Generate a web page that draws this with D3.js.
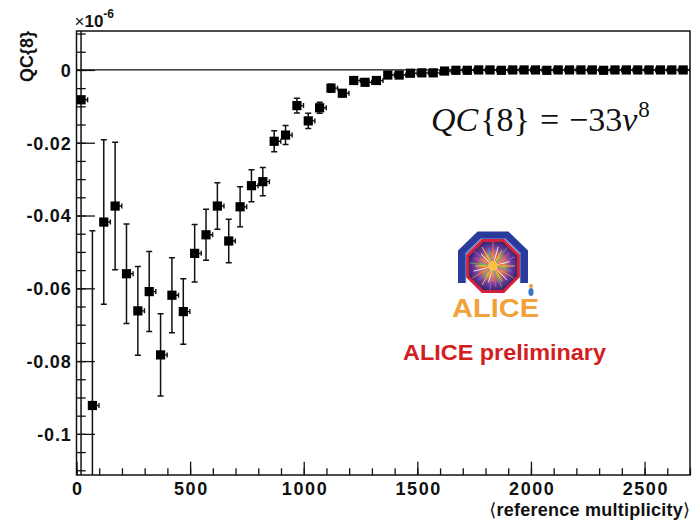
<!DOCTYPE html>
<html>
<head>
<meta charset="utf-8">
<script src="https://cdn.jsdelivr.net/npm/d3@7"></script>
<style>
  body { margin: 0; background: #fff; }
  svg { display: block; }
</style>
</head>
<body>
<svg id="chart" width="693" height="521"></svg>
<script>
// QC{8} cumulant (in units of 1e-6) versus mean reference multiplicity
const multiplicity = [
  20, 70, 120, 170, 220, 270, 320, 370, 420, 470,
  520, 570, 620, 670, 720, 770, 820, 870, 920, 970,
  1020, 1070, 1120, 1170, 1220, 1270, 1320, 1370, 1420, 1470,
  1520, 1570, 1620, 1670, 1720, 1770, 1820, 1870, 1920, 1970,
  2020, 2070, 2120, 2170, 2220, 2270, 2320, 2370, 2420, 2470,
  2520, 2570, 2620, 2670
];
const qc8 = [
  -0.0082, -0.0922, -0.0418, -0.0374, -0.0560, -0.0662, -0.0609, -0.0783, -0.0619, -0.0664,
  -0.0504, -0.0453, -0.0374, -0.0470, -0.0376, -0.0318, -0.0307, -0.0196, -0.0179, -0.0098,
  -0.0140, -0.0104, -0.0050, -0.0064, -0.0029, -0.0034, -0.0029, -0.0014, -0.0014, -0.0009,
  -0.0008, -0.0008, -0.0003, -0.0001, -0.0001, 0.0000, 0.0000, -0.0001, 0.0000, 0.0000,
  0.0000, -0.0001, 0.0000, 0.0000, 0.0000, 0.0000, -0.0001, 0.0000, 0.0000, 0.0000,
  0.0000, 0.0000, 0.0000, 0.0000
];
const qc8Err = [
  0.1500, 0.0480, 0.0226, 0.0175, 0.0137, 0.0122, 0.0110, 0.0113, 0.0103, 0.0090,
  0.0079, 0.0070, 0.0064, 0.0060, 0.0055, 0.0044, 0.0039, 0.0029, 0.0026, 0.0020,
  0.0021, 0.0015, 0.0011, 0.0009, 0.0007, 0.0006, 0.0005, 0.0004, 0.0004, 0.0003,
  0.0003, 0.0003, 0.0002, 0.0001, 0.0001, 0.0001, 0.0001, 0.0001, 0.0001, 0.0001,
  0.0001, 0.0001, 0.0001, 0.0001, 0.0001, 0.0001, 0.0001, 0.0001, 0.0001, 0.0001,
  0.0001, 0.0001, 0.0001, 0.0001
];
// spread of the multiplicity inside each bin (below / above the mean)
const multErrLow = 5;
const multErrHigh = 29;

const xTickValues = [0, 500, 1000, 1500, 2000, 2500];
const xTickLabels = ["0", "500", "1000", "1500", "2000", "2500"];
const yTickValues = [0, -0.02, -0.04, -0.06, -0.08, -0.1];
const yTickLabels = ["0", "-0.02", "-0.04", "-0.06", "-0.08", "-0.1"];

const svg = d3.select("#chart");
const W = 693, H = 521;
const frame = { left: 76.5, right: 690, top: 31, bottom: 475 };

const x = d3.scaleLinear().domain([0, 2700]).range([frame.left, frame.right]);
const y = d3.scaleLinear().domain([-0.1113, 0.0107]).range([frame.bottom, frame.top]);

const AXIS_FONT = "'Liberation Sans', Arial, Helvetica, sans-serif";
const ink = "#111";

svg.append("rect").attr("width", W).attr("height", H).attr("fill", "#fff");

const defs = svg.append("defs");
defs.append("clipPath").attr("id", "plotClip")
  .append("rect")
  .attr("x", frame.left).attr("y", frame.top)
  .attr("width", frame.right - frame.left).attr("height", frame.bottom - frame.top);

// ---------- axes (ticks point into the frame) ----------
const plotW = frame.right - frame.left, plotH = frame.bottom - frame.top;
const yMajorLen = 0.03 * plotW, yMinorLen = yMajorLen / 2;
const xMajorLen = 0.03 * plotH, xMinorLen = xMajorLen / 2;

const yAxis = d3.axisLeft(y)
  .tickValues(yTickValues)
  .tickFormat((d, i) => yTickLabels[i])
  .tickSizeInner(-yMajorLen).tickSizeOuter(0).tickPadding(5);
const gy = svg.append("g").attr("transform", `translate(${frame.left},0)`).call(yAxis);

const yMinor = d3.range(-0.110, 0.0101, 0.005).map(v => +v.toFixed(3));
const gyMinor = svg.append("g").attr("transform", `translate(${frame.left},0)`)
  .call(d3.axisLeft(y).tickValues(yMinor).tickFormat("").tickSizeInner(-yMinorLen).tickSizeOuter(0));

const xAxis = d3.axisBottom(x)
  .tickValues(xTickValues)
  .tickFormat((d, i) => xTickLabels[i])
  .tickSizeInner(-xMajorLen).tickSizeOuter(0).tickPadding(7);
const gx = svg.append("g").attr("transform", `translate(0,${frame.bottom})`).call(xAxis);

const xMinor = d3.range(0, 2701, 100);
const gxMinor = svg.append("g").attr("transform", `translate(0,${frame.bottom})`)
  .call(d3.axisBottom(x).tickValues(xMinor).tickFormat("").tickSizeInner(-xMinorLen).tickSizeOuter(0));

[gy, gyMinor, gx, gxMinor].forEach(g => {
  g.select(".domain").remove();
  g.selectAll(".tick line").attr("stroke", ink).attr("stroke-width", 1.3);
  g.selectAll(".tick text")
    .attr("fill", ink)
    .style("font-family", AXIS_FONT)
    .style("font-weight", "bold")
    .style("font-size", "18px");
});
gy.selectAll(".tick text").style("letter-spacing", "0.8px").attr("dy", "0.36em");
gx.selectAll(".tick text").style("letter-spacing", "1.6px").attr("dx", "0.8px");

// frame
svg.append("rect")
  .attr("x", frame.left).attr("y", frame.top)
  .attr("width", plotW).attr("height", plotH)
  .attr("fill", "none").attr("stroke", ink).attr("stroke-width", 1.5);

// zero line
svg.append("line")
  .attr("x1", frame.left).attr("x2", frame.right)
  .attr("y1", y(0)).attr("y2", y(0))
  .attr("stroke", ink).attr("stroke-width", 1.2);

// ---------- data: error bars and square markers ----------
const points = multiplicity.map((m, i) => ({ m, v: qc8[i], e: qc8Err[i] }));
const dataG = svg.append("g").attr("clip-path", "url(#plotClip)");
const capHalf = 3;

points.forEach(p => {
  const cx = x(p.m), cy = y(p.v);
  const yTop = y(p.v + p.e), yBot = y(p.v - p.e);
  dataG.append("line")
    .attr("x1", cx).attr("x2", cx).attr("y1", yTop).attr("y2", yBot)
    .attr("stroke", ink).attr("stroke-width", 1.5);
  [yTop, yBot].forEach(yy => {
    if (yy > frame.top + 1 && yy < frame.bottom - 1) {
      dataG.append("line")
        .attr("x1", cx - capHalf).attr("x2", cx + capHalf).attr("y1", yy).attr("y2", yy)
        .attr("stroke", ink).attr("stroke-width", 1.5);
    }
  });
  const xr = x(p.m + multErrHigh), xl = x(p.m - multErrLow);
  dataG.append("line")
    .attr("x1", xl).attr("x2", xr).attr("y1", cy).attr("y2", cy)
    .attr("stroke", ink).attr("stroke-width", 1.4);
  dataG.append("line")
    .attr("x1", xr).attr("x2", xr).attr("y1", cy - 2.5).attr("y2", cy + 2.5)
    .attr("stroke", ink).attr("stroke-width", 1.4);
});

const marker = 9.2;
dataG.selectAll("rect.pt")
  .data(points)
  .join("rect")
  .attr("class", "pt")
  .attr("x", d => x(d.m) - marker / 2)
  .attr("y", d => y(d.v) - marker / 2)
  .attr("width", marker).attr("height", marker)
  .attr("fill", "#000");

// ---------- axis titles ----------
svg.append("text")
  .attr("transform", `translate(33,${frame.top}) rotate(-90)`)
  .attr("text-anchor", "end")
  .style("font-family", AXIS_FONT).style("font-weight", "bold").style("font-size", "18px")
  .attr("fill", ink)
  .text("QC{8}");

const expo = svg.append("text")
  .attr("x", frame.left - 2).attr("y", 27)
  .style("font-family", AXIS_FONT).style("font-size", "17px")
  .attr("fill", ink);
expo.append("tspan").text("×").style("font-weight", "normal");
expo.append("tspan").text("10").style("font-weight", "bold");
expo.append("tspan").text("-6").attr("dy", -9).style("font-size", "12px").style("font-weight", "bold");

const xTitle = svg.append("text")
  .attr("x", frame.right).attr("y", 516)
  .attr("text-anchor", "end")
  .style("font-family", AXIS_FONT).style("font-weight", "bold").style("font-size", "18px")
  .attr("fill", ink);
xTitle.append("tspan").text("⟨").style("font-family", "'DejaVu Sans', sans-serif").style("font-weight", "normal");
xTitle.append("tspan").text("reference multiplicity").style("letter-spacing", "0.25px");
xTitle.append("tspan").text("⟩").style("font-family", "'DejaVu Sans', sans-serif").style("font-weight", "normal");

// ---------- formula ----------
const SERIF = "'Liberation Serif', 'Times New Roman', serif";
const f = svg.append("text")
  .attr("x", 431).attr("y", 131)
  .style("font-family", SERIF).style("font-size", "34px")
  .attr("fill", ink);
f.append("tspan").text("QC").style("font-style", "italic");
f.append("tspan").text("{8}").attr("dx", 2);
f.append("tspan").text("=").attr("dx", 10);
f.append("tspan").text("−33").attr("dx", 10);
f.append("tspan").text("v").style("font-style", "italic");
f.append("tspan").text("8").attr("dx", 1).attr("dy", -14).style("font-size", "23px");

// ---------- ALICE logo ----------
const logo = svg.append("g").attr("transform", "translate(493,266)");
const glow = defs.append("radialGradient").attr("id", "burst");
glow.append("stop").attr("offset", "0%").attr("stop-color", "#ffe060");
glow.append("stop").attr("offset", "35%").attr("stop-color", "#f5a030");
glow.append("stop").attr("offset", "70%").attr("stop-color", "#7a3fa0");
glow.append("stop").attr("offset", "100%").attr("stop-color", "#2c2472");

// blue arch
logo.append("path")
  .attr("d", "M-31.5,17 L-31.5,-14 L-14,-31 L14,-31 L31.5,-14 L31.5,17")
  .attr("fill", "none").attr("stroke", "#2b3b9c").attr("stroke-width", 7)
  .attr("stroke-linejoin", "miter");
logo.append("path")
  .attr("d", "M-27.5,17 L-27.5,-12 L-12,-27.5 L12,-27.5 L27.5,-12 L27.5,17")
  .attr("fill", "none").attr("stroke", "#4f6cc8").attr("stroke-width", 1.2);

// red octagon with starburst
const octR = 27.5;
const oct = d3.range(8).map(k => {
  const a = (k + 0.5) * Math.PI / 4;
  return [octR * Math.cos(a), octR * Math.sin(a)];
});
logo.append("polygon")
  .attr("points", oct.map(p => p.join(",")).join(" "))
  .attr("fill", "url(#burst)").attr("stroke", "#d42038").attr("stroke-width", 3);
const rayColors = ["#f7d23a", "#5cc04a", "#3a9ee0", "#e04fa0", "#f08a30", "#b060d0", "#ffffff", "#e84040"];
const rayLen = [22, 14, 19, 11, 24, 16, 20, 12, 18, 23, 13, 21, 15, 24, 17, 10];
d3.range(48).forEach(k => {
  const a = k * 2 * Math.PI / 48;
  const len = rayLen[k % rayLen.length];
  logo.append("line")
    .attr("x1", 4 * Math.cos(a)).attr("y1", 4 * Math.sin(a))
    .attr("x2", len * Math.cos(a)).attr("y2", len * Math.sin(a))
    .attr("stroke", rayColors[k % rayColors.length]).attr("stroke-width", 1)
    .attr("opacity", 0.85);
});
logo.append("circle").attr("r", 5).attr("fill", "#fbc040");

// little figure and the ALICE word
svg.append("ellipse").attr("cx", 531).attr("cy", 292).attr("rx", 2.6).attr("ry", 4).attr("fill", "#3b78c8");
svg.append("circle").attr("cx", 531).attr("cy", 286).attr("r", 2).attr("fill", "#e8a040");
svg.append("text")
  .attr("x", 452).attr("y", 317)
  .attr("textLength", 87).attr("lengthAdjust", "spacingAndGlyphs")
  .style("font-family", AXIS_FONT).style("font-weight", "bold").style("font-size", "26px")
  .attr("fill", "#f2a23a")
  .text("ALICE");

svg.append("text")
  .attr("x", 403).attr("y", 360)
  .attr("textLength", 203).attr("lengthAdjust", "spacingAndGlyphs")
  .style("font-family", AXIS_FONT).style("font-weight", "bold").style("font-size", "22px")
  .attr("fill", "#d3201f")
  .text("ALICE preliminary");
</script>
</body>
</html>
